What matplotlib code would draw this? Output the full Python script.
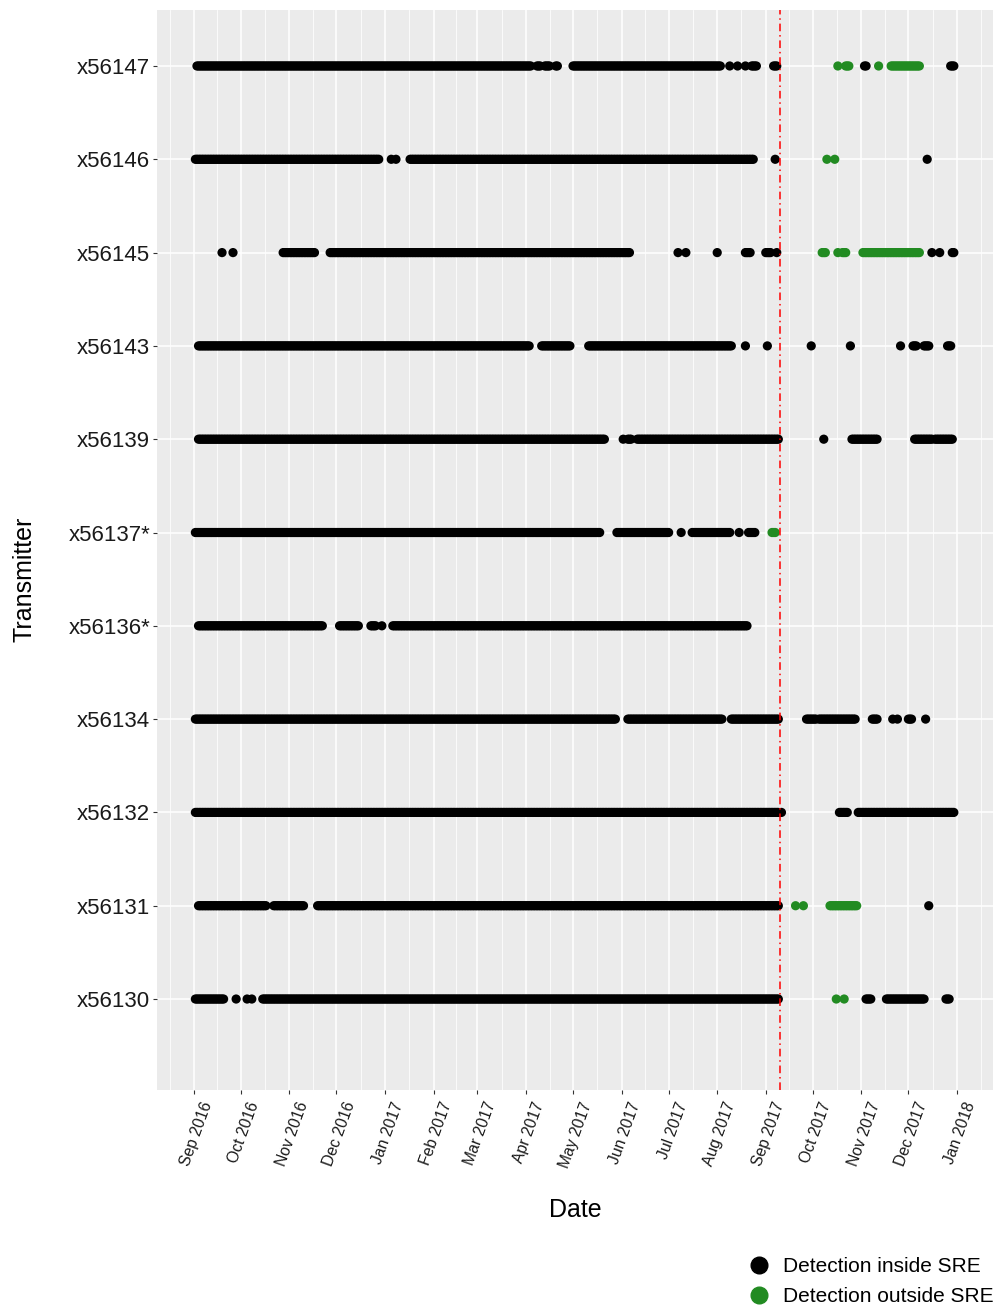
import matplotlib
matplotlib.use("Agg")
import matplotlib.pyplot as plt
import matplotlib.dates as mdates
import matplotlib.transforms as mtransforms
from matplotlib.lines import Line2D
import numpy as np
import pandas as pd

plt.rcParams['font.family'] = ['Liberation Sans', 'DejaVu Sans']

# Transmitters, bottom to top
transmitters = ["x56130", "x56131", "x56132", "x56134", "x56136*", "x56137*",
                "x56139", "x56143", "x56145", "x56146", "x56147"]

# Daily detection runs: (first day, last day, where) -- "in" / "out" of the SRE
runs_x56130 = [
    ("2016-09-02", "2016-09-20", "in"), ("2016-09-28", "2016-09-28", "in"),
    ("2016-10-05", "2016-10-05", "in"), ("2016-10-08", "2016-10-08", "in"),
    ("2016-10-15", "2017-09-09", "in"), ("2017-10-16", "2017-10-16", "out"),
    ("2017-10-21", "2017-10-21", "out"), ("2017-11-04", "2017-11-07", "in"),
    ("2017-11-17", "2017-12-11", "in"), ("2017-12-25", "2017-12-27", "in"),
]
runs_x56131 = [
    ("2016-09-04", "2016-10-17", "in"), ("2016-10-22", "2016-11-10", "in"),
    ("2016-11-19", "2017-09-09", "in"), ("2017-09-20", "2017-09-20", "out"),
    ("2017-09-25", "2017-09-25", "out"), ("2017-10-12", "2017-10-29", "out"),
    ("2017-12-14", "2017-12-14", "in"),
]
runs_x56132 = [
    ("2016-09-02", "2017-09-09", "in"), ("2017-09-11", "2017-09-11", "in"),
    ("2017-10-18", "2017-10-23", "in"), ("2017-10-30", "2017-12-30", "in"),
]
runs_x56134 = [
    ("2016-09-02", "2017-05-28", "in"), ("2017-06-05", "2017-08-04", "in"),
    ("2017-08-10", "2017-09-09", "in"), ("2017-09-27", "2017-10-03", "in"),
    ("2017-10-05", "2017-10-28", "in"), ("2017-11-08", "2017-11-11", "in"),
    ("2017-11-21", "2017-11-21", "in"), ("2017-11-24", "2017-11-24", "in"),
    ("2017-12-01", "2017-12-03", "in"), ("2017-12-12", "2017-12-12", "in"),
]
runs_x56136 = [
    ("2016-09-04", "2016-11-22", "in"), ("2016-12-03", "2016-12-15", "in"),
    ("2016-12-23", "2016-12-26", "in"), ("2016-12-30", "2016-12-30", "in"),
    ("2017-01-06", "2017-08-20", "in"),
]
runs_x56137 = [
    ("2016-09-02", "2017-05-18", "in"), ("2017-05-29", "2017-07-01", "in"),
    ("2017-07-09", "2017-07-09", "in"), ("2017-07-16", "2017-08-09", "in"),
    ("2017-08-15", "2017-08-15", "in"), ("2017-08-21", "2017-08-25", "in"),
    ("2017-09-05", "2017-09-07", "out"),
]
runs_x56139 = [
    ("2016-09-04", "2017-05-21", "in"), ("2017-06-02", "2017-06-02", "in"),
    ("2017-06-05", "2017-06-07", "in"), ("2017-06-11", "2017-09-09", "in"),
    ("2017-10-08", "2017-10-08", "in"), ("2017-10-26", "2017-11-11", "in"),
    ("2017-12-05", "2017-12-16", "in"), ("2017-12-18", "2017-12-29", "in"),
]
runs_x56143 = [
    ("2016-09-04", "2017-04-03", "in"), ("2017-04-11", "2017-04-29", "in"),
    ("2017-05-11", "2017-08-10", "in"), ("2017-08-19", "2017-08-19", "in"),
    ("2017-09-02", "2017-09-02", "in"), ("2017-09-30", "2017-09-30", "in"),
    ("2017-10-25", "2017-10-25", "in"), ("2017-11-26", "2017-11-26", "in"),
    ("2017-12-04", "2017-12-06", "in"), ("2017-12-11", "2017-12-14", "in"),
    ("2017-12-26", "2017-12-28", "in"),
]
runs_x56145 = [
    ("2016-09-19", "2016-09-19", "in"), ("2016-09-26", "2016-09-26", "in"),
    ("2016-10-28", "2016-11-17", "in"), ("2016-11-27", "2017-06-06", "in"),
    ("2017-07-07", "2017-07-07", "in"), ("2017-07-12", "2017-07-12", "in"),
    ("2017-08-01", "2017-08-01", "in"), ("2017-08-19", "2017-08-22", "in"),
    ("2017-09-01", "2017-09-04", "in"), ("2017-09-08", "2017-09-08", "in"),
    ("2017-10-07", "2017-10-09", "out"), ("2017-10-17", "2017-10-17", "out"),
    ("2017-10-20", "2017-10-22", "out"), ("2017-11-02", "2017-12-08", "out"),
    ("2017-12-16", "2017-12-16", "in"), ("2017-12-21", "2017-12-21", "in"),
    ("2017-12-29", "2017-12-30", "in"),
]
runs_x56146 = [
    ("2016-09-02", "2016-12-28", "in"), ("2017-01-05", "2017-01-05", "in"),
    ("2017-01-08", "2017-01-08", "in"), ("2017-01-17", "2017-08-24", "in"),
    ("2017-09-07", "2017-09-07", "in"), ("2017-10-10", "2017-10-10", "out"),
    ("2017-10-15", "2017-10-15", "out"), ("2017-12-13", "2017-12-13", "in"),
]
runs_x56147 = [
    ("2016-09-03", "2017-04-04", "in"), ("2017-04-08", "2017-04-10", "in"),
    ("2017-04-13", "2017-04-16", "in"), ("2017-04-20", "2017-04-21", "in"),
    ("2017-05-01", "2017-08-03", "in"), ("2017-08-09", "2017-08-09", "in"),
    ("2017-08-14", "2017-08-14", "in"), ("2017-08-19", "2017-08-19", "in"),
    ("2017-08-23", "2017-08-26", "in"), ("2017-09-06", "2017-09-08", "in"),
    ("2017-10-17", "2017-10-17", "out"), ("2017-10-22", "2017-10-24", "out"),
    ("2017-11-03", "2017-11-04", "in"), ("2017-11-12", "2017-11-12", "out"),
    ("2017-11-20", "2017-12-08", "out"), ("2017-12-28", "2017-12-30", "in"),
]

runs_by_transmitter = [runs_x56130, runs_x56131, runs_x56132, runs_x56134,
                       runs_x56136, runs_x56137, runs_x56139, runs_x56143,
                       runs_x56145, runs_x56146, runs_x56147]

release_date = "2017-09-10"
month_ticks = pd.date_range("2016-09-01", "2018-01-01", freq="MS")

colors = {"in": "black", "out": "#228B22"}
labels = {"in": "Detection inside SRE", "out": "Detection outside SRE"}

# expand runs into one detection per day
records = []
for row, runs in enumerate(runs_by_transmitter):
    for start, end, where in runs:
        for day in pd.date_range(start, end, freq="D"):
            records.append((day, row, where))
det = pd.DataFrame(records, columns=["date", "row", "where"])

fig = plt.figure(figsize=(10.08, 13.09), dpi=100)
ax = fig.add_axes([157 / 1008, 1 - 1090 / 1309, (993 - 157) / 1008, (1090 - 10) / 1309])
ax.set_facecolor("#EBEBEB")
for s in ax.spines.values():
    s.set_visible(False)

for where in ["in", "out"]:
    sub = det[det["where"] == where]
    ax.scatter(mdates.date2num(sub["date"]), sub["row"], s=44, c=colors[where],
               edgecolors="none", zorder=3)

ax.axvline(mdates.date2num(pd.Timestamp(release_date)), color="red", lw=1.1,
           linestyle=(0, (5, 2.5, 1, 2.5)), zorder=4)

# axes scales
ax.set_xlim(mdates.date2num(pd.Timestamp("2016-08-08 12:00")),
            mdates.date2num(pd.Timestamp("2018-01-24")))
ax.set_ylim(-0.975, len(transmitters) - 1 + 0.6)

major = mdates.date2num(month_ticks)
ext = mdates.date2num(pd.date_range("2016-08-01", "2018-02-01", freq="MS"))
minor = (ext[:-1] + ext[1:]) / 2
ax.set_xticks(major)
ax.set_xticks(minor, minor=True)
ax.set_yticks(range(len(transmitters)))
ax.set_yticklabels(transmitters, fontsize=16, color="#1a1a1a")

ax.tick_params(axis="both", which="major", length=3, width=0.8, color="#333333", pad=2)
ax.tick_params(axis="x", which="major", pad=4)
ax.tick_params(axis="x", which="minor", length=0)

ax.set_xticklabels([d.strftime("%b %Y") for d in month_ticks], rotation=70,
                   ha="right", va="top", rotation_mode="anchor", fontsize=11.3,
                   color="#1a1a1a")
shift = mtransforms.ScaledTranslation(7 / 100, 0, fig.dpi_scale_trans)
for tick in ax.xaxis.get_major_ticks():
    tick.label1.set_transform(tick.label1.get_transform() + shift)

ax.grid(which="major", color="white", lw=1.1)
ax.grid(which="minor", axis="x", color="white", lw=0.55)
ax.set_axisbelow(True)

fig.text(575 / 1008, 1 - 1210 / 1309, "Date", ha="center", va="center", fontsize=18)
fig.text(25 / 1008, 1 - 579 / 1309, "Transmitter", ha="center", va="center",
         rotation=90, fontsize=18)

handles = [Line2D([], [], marker="o", ls="", color=colors[k], markersize=12,
                  label=labels[k]) for k in ["in", "out"]]
fig.legend(handles=handles, loc="upper left", bbox_to_anchor=(749 / 1008, 1 - 1257 / 1309),
           frameon=False, fontsize=15, handlelength=1.0, handletextpad=0.65,
           borderpad=0, borderaxespad=0, labelspacing=0.55)

fig.savefig("out.png", dpi=100)
